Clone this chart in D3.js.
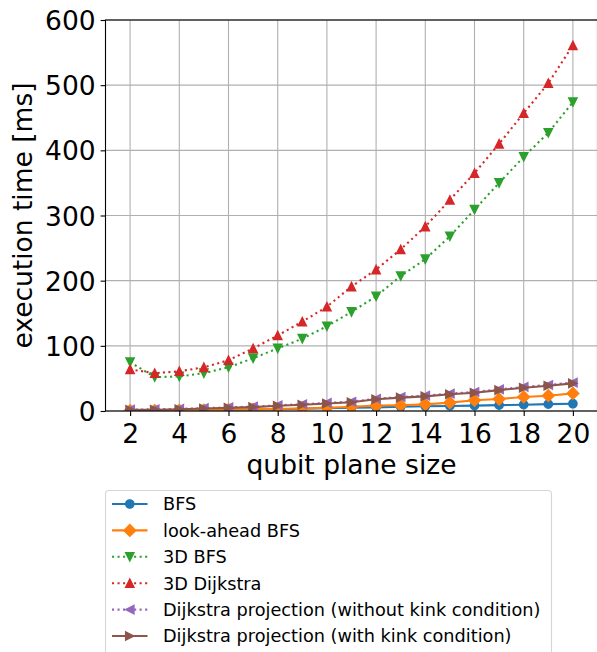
<!DOCTYPE html>
<html>
<head>
<meta charset="utf-8">
<script src="https://cdn.jsdelivr.net/npm/d3@7"></script>
<style>
  body { margin: 0; background: white; }
  text { font-family: "DejaVu Sans", sans-serif; fill: black; }
</style>
</head>
<body>
<svg id="chart" width="597" height="652"></svg>
<script>
// qubit plane sizes on the x axis
const sizes = [2, 3, 4, 5, 6, 7, 8, 9, 10, 11, 12, 13, 14, 15, 16, 17, 18, 19, 20];

// execution times in ms
const bfs = [0.3, 0.5, 0.8, 1.2, 1.7, 2.2, 2.8, 3.5, 4.2, 5.0, 5.6, 6.4, 7.2, 7.8, 8.2, 9.0, 9.7, 10.5, 11.2];
const lookAheadBfs = [0.4, 0.7, 1.0, 1.5, 2.0, 2.5, 3.0, 4.0, 5.0, 6.6, 8.2, 8.8, 10.2, 12.8, 16.4, 18.4, 21.5, 23.5, 27.0];
const bfs3d = [75, 52, 53, 58, 67, 81, 96, 111, 130, 152, 176, 207, 233, 268, 309, 350, 390, 427, 474];
const dijkstra3d = [64, 58, 61, 67, 78, 96, 116, 137, 160, 191, 217, 248, 283, 324, 365, 410, 457, 503, 561];
const projNoKink = [2.2, 2.6, 3.4, 4.4, 5.6, 6.8, 8.8, 10.4, 12.5, 14.3, 18.8, 21.5, 23.6, 26.7, 29.2, 33.2, 37.0, 40.0, 43.6];
const projKink = [1.8, 2.0, 2.8, 3.8, 4.8, 5.9, 8.0, 9.5, 11.5, 13.3, 17.9, 20.5, 22.5, 25.6, 28.0, 32.0, 35.8, 38.8, 42.4];

const xTicks = [2, 4, 6, 8, 10, 12, 14, 16, 18, 20];
const yTicks = [0, 100, 200, 300, 400, 500, 600];

const seriesNames = ["BFS", "look-ahead BFS", "3D BFS", "3D Dijkstra",
  "Dijkstra projection (without kink condition)", "Dijkstra projection (with kink condition)"];
const seriesValues = [bfs, lookAheadBfs, bfs3d, dijkstra3d, projNoKink, projKink];
const seriesColors = ["#1f77b4", "#ff7f0e", "#2ca02c", "#d62728", "#9467bd", "#8c564b"];
const seriesMarkers = ["circle", "diamond", "down", "up", "left", "right"];
const seriesDotted = [false, false, true, true, true, false];

let svg = d3.select("#chart");

let plotLeft = 105.5, plotRight = 597.5, plotTop = 20, plotBottom = 411;

let xScale = d3.scaleLinear().domain([1, 21]).range([plotLeft, plotRight]);
let yScale = d3.scaleLinear().domain([0, 600]).range([plotBottom, plotTop]);

// marker outline like matplotlib's, M = marker size in px
function markerPath(kind, M) {
  let h = M / 2;
  if (kind == "circle") {
    return d3.symbol().type(d3.symbolCircle).size(Math.PI * h * h)();
  }
  let pts;
  if (kind == "diamond") { let d = M * Math.SQRT2 / 2; pts = [[0, -d], [d, 0], [0, d], [-d, 0]]; }
  if (kind == "up") { pts = [[0, -h], [-h, h], [h, h]]; }
  if (kind == "down") { pts = [[0, h], [-h, -h], [h, -h]]; }
  if (kind == "left") { pts = [[-h, 0], [h, -h], [h, h]]; }
  if (kind == "right") { pts = [[h, 0], [-h, -h], [-h, h]]; }
  return "M" + pts.map(p => p.join(",")).join("L") + "Z";
}

svg.append("defs").append("clipPath").attr("id", "plotClip")
  .append("rect")
  .attr("x", plotLeft).attr("y", plotTop)
  .attr("width", plotRight - plotLeft).attr("height", plotBottom - plotTop);

// grid
let grid = svg.append("g");
grid.selectAll(".vgrid").data(xTicks).enter().append("line")
  .attr("x1", d => xScale(d)).attr("x2", d => xScale(d))
  .attr("y1", plotTop).attr("y2", plotBottom)
  .attr("stroke", "#b0b0b0").attr("stroke-width", 1.1);
grid.selectAll(".hgrid").data(yTicks).enter().append("line")
  .attr("x1", plotLeft).attr("x2", plotRight)
  .attr("y1", d => yScale(d)).attr("y2", d => yScale(d))
  .attr("stroke", "#b0b0b0").attr("stroke-width", 1.1);

// series
let plot = svg.append("g").attr("clip-path", "url(#plotClip)");
let line = d3.line().x((d, i) => xScale(sizes[i])).y(d => yScale(d));

for (let s = 0; s < seriesValues.length; s++) {
  let g = plot.append("g");
  g.append("path")
    .attr("d", line(seriesValues[s]))
    .attr("fill", "none")
    .attr("stroke", seriesColors[s])
    .attr("stroke-width", 2.08)
    .attr("stroke-dasharray", seriesDotted[s] ? "2.08 3.44" : null);
  g.selectAll("path.m")
    .data(seriesValues[s])
    .enter()
    .append("path")
    .attr("class", "m")
    .attr("d", markerPath(seriesMarkers[s], 8.33))
    .attr("transform", (d, i) => "translate(" + xScale(sizes[i]) + "," + yScale(d) + ")")
    .attr("fill", seriesColors[s])
    .attr("stroke", seriesColors[s])
    .attr("stroke-width", 1.39);
}

// axes
let xAxis = d3.axisBottom(xScale).tickValues(xTicks).tickSize(4.9).tickPadding(4.9);
let yAxis = d3.axisLeft(yScale).tickValues(yTicks).tickSize(4.9).tickPadding(4.9);

let gx = svg.append("g").attr("transform", "translate(0," + plotBottom + ")").call(xAxis);
let gy = svg.append("g").attr("transform", "translate(" + plotLeft + ",0)").call(yAxis);
[gx, gy].forEach(g => {
  g.select(".domain").remove();
  g.selectAll(".tick line").attr("stroke", "black").attr("stroke-width", 1.1);
  g.selectAll(".tick text").attr("font-size", "26.5px").attr("fill", "black")
    .attr("font-family", "DejaVu Sans");
});
gx.selectAll(".tick text").attr("dy", null).attr("y", 32);
gy.selectAll(".tick text").attr("dy", "0.36em");

// frame
svg.append("rect")
  .attr("x", plotLeft).attr("y", plotTop)
  .attr("width", plotRight - plotLeft).attr("height", plotBottom - plotTop)
  .attr("fill", "none").attr("stroke", "black").attr("stroke-width", 1.1);

svg.append("text")
  .attr("x", (plotLeft + plotRight) / 2).attr("y", 474)
  .attr("text-anchor", "middle")
  .attr("font-size", "26.5px")
  .text("qubit plane size");

svg.append("text")
  .attr("transform", "translate(32," + (plotTop + plotBottom) / 2 + ") rotate(-90)")
  .attr("text-anchor", "middle")
  .attr("font-size", "26.5px")
  .text("execution time [ms]");

// legend
let legend = svg.append("g");
legend.append("rect")
  .attr("x", 105.5).attr("y", 490.5)
  .attr("width", 446).attr("height", 180)
  .attr("rx", 3.5)
  .attr("fill", "white").attr("fill-opacity", 0.8)
  .attr("stroke", "#d6d6d6").attr("stroke-width", 1.1);

let rows = legend.selectAll(".row")
  .data(seriesNames)
  .enter()
  .append("g")
  .attr("transform", (d, i) => "translate(0," + (504 + i * 26.4) + ")");

rows.append("line")
  .attr("x1", 112).attr("x2", 147.5)
  .attr("stroke", (d, i) => seriesColors[i])
  .attr("stroke-width", 2.08)
  .attr("stroke-dasharray", (d, i) => seriesDotted[i] ? "2.08 3.44" : null);
rows.append("path")
  .attr("d", (d, i) => markerPath(seriesMarkers[i], 8.33))
  .attr("transform", "translate(129.8,0)")
  .attr("fill", (d, i) => seriesColors[i])
  .attr("stroke", (d, i) => seriesColors[i])
  .attr("stroke-width", 1.39);
rows.append("text")
  .attr("x", 163).attr("y", 6.4)
  .attr("font-size", "17.7px")
  .text(d => d);
</script>
</body>
</html>
